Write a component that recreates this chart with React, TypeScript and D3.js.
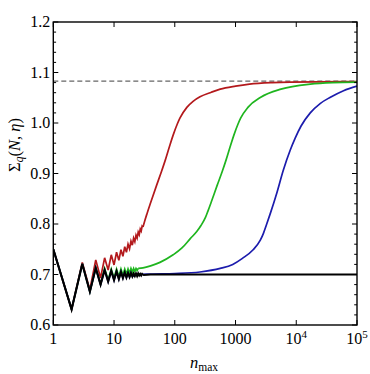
import React from 'react';
import * as d3 from 'd3';

const width = 370;
const height = 374;
const margin = { left: 53.3, right: 13, top: 22, bottom: 49 };

// sawtooth part, integer n
const sawN = [1, 2, 3, 4, 5, 6, 7, 8, 9, 10, 11, 12, 13, 14, 15, 16, 17, 18, 19, 20, 21, 22, 23, 24, 25, 26, 27, 28, 29, 30];

const blackV = [0.750, 0.631, 0.721, 0.666, 0.713, 0.680, 0.709, 0.686, 0.707, 0.689, 0.706, 0.691, 0.705, 0.693, 0.704, 0.694, 0.703, 0.695, 0.703, 0.696, 0.702, 0.697, 0.702, 0.697, 0.702, 0.698, 0.701, 0.698, 0.701, 0.699];
const blackTailN = [40, 100000];
const blackTailV = [0.700, 0.700];

const redV = [0.750, 0.631, 0.724, 0.670, 0.729, 0.693, 0.733, 0.709, 0.739, 0.719, 0.744, 0.728, 0.749, 0.736, 0.755, 0.744, 0.760, 0.751, 0.766, 0.758, 0.772, 0.765, 0.778, 0.772, 0.784, 0.779, 0.790, 0.786, 0.796, 0.794];
const redTailN = [32, 35, 40, 50, 60, 70, 84, 94, 110, 122, 158, 200, 260, 400, 560, 1000, 1700, 4000, 8000, 100000];
const redTailV = [0.806, 0.821, 0.842, 0.876, 0.903, 0.927, 0.958, 0.976, 0.998, 1.010, 1.031, 1.043, 1.052, 1.061, 1.067, 1.073, 1.077, 1.080, 1.081, 1.082];

const greenSawN = [1, 2, 3, 4, 5, 6, 7, 8, 9, 10, 11, 12, 13, 14, 15, 16, 17, 18, 19, 20, 21, 22, 23, 24, 25];
const greenSawV = [0.750, 0.631, 0.721, 0.666, 0.713, 0.681, 0.712, 0.689, 0.711, 0.693, 0.711, 0.696, 0.711, 0.699, 0.711, 0.701, 0.711, 0.703, 0.712, 0.705, 0.712, 0.706, 0.712, 0.708, 0.712];
const greenTailN = [30, 40, 57, 94, 130, 180, 230, 270, 320, 350, 400, 500, 600, 700, 840, 940, 1100, 1220, 1600, 2600, 5600, 17000, 40000, 100000];
const greenTailV = [0.713, 0.717, 0.724, 0.739, 0.752, 0.771, 0.785, 0.797, 0.813, 0.825, 0.844, 0.877, 0.903, 0.927, 0.958, 0.976, 0.998, 1.010, 1.031, 1.051, 1.067, 1.077, 1.080, 1.081];

const blueSawN = [1, 2, 3, 4, 5, 6, 7, 8, 9, 10, 11, 12, 13, 14, 15, 16, 17, 18, 19, 20];
const blueSawV = [0.750, 0.631, 0.721, 0.666, 0.713, 0.680, 0.709, 0.686, 0.707, 0.689, 0.706, 0.691, 0.705, 0.693, 0.704, 0.694, 0.703, 0.695, 0.703, 0.696];
const blueTailN = [25, 40, 100, 260, 560, 900, 1300, 1950, 2560, 2870, 3200, 3720, 4800, 6100, 7940, 9600, 12000, 17000, 25000, 36500, 60000, 100000];
const blueTailV = [0.700, 0.701, 0.702, 0.705, 0.712, 0.720, 0.732, 0.749, 0.768, 0.781, 0.797, 0.820, 0.862, 0.906, 0.946, 0.970, 0.994, 1.020, 1.039, 1.051, 1.064, 1.073];

const limitValue = 1.083;

const yTicks = [0.6, 0.7, 0.8, 0.9, 1.0, 1.1, 1.2];
const yMinor = d3.range(0.6, 1.2001, 0.02);
const xTicks = [1, 10, 100, 1000, 10000, 100000];
const xLabels = ['1', '10', '100', '1000', '10^4', '10^5'];

const font = 'Liberation Serif, Times New Roman, DejaVu Serif, serif';

const zipPts = (ns: number[], vs: number[]) => ns.map((n, i) => [n, vs[i]] as [number, number]);

export default function App() {
  const x = d3.scaleLog().domain([1, 100000]).range([margin.left, width - margin.right]);
  const y = d3.scaleLinear().domain([0.6, 1.2]).range([height - margin.bottom, margin.top]);
  const sawLine = d3.line<[number, number]>().x(d => x(d[0])).y(d => y(d[1]));
  const smoothLine = d3.line<[number, number]>().x(d => x(d[0])).y(d => y(d[1])).curve(d3.curveMonotoneX);

  const series = [
    { saw: zipPts(sawN, redV), tail: zipPts(redTailN, redTailV), color: '#b3191c', w: 1.7 },
    { saw: zipPts(greenSawN, greenSawV), tail: zipPts(greenTailN, greenTailV), color: '#1fb51f', w: 1.7 },
    { saw: zipPts(blueSawN, blueSawV), tail: zipPts(blueTailN, blueTailV), color: '#1c1cad', w: 1.7 },
    { saw: zipPts(sawN, blackV), tail: zipPts(blackTailN, blackTailV), color: '#000', w: 2.1 },
  ];

  const x0 = margin.left, x1 = width - margin.right;
  const y0 = margin.top, y1 = height - margin.bottom;
  const txt = { fontFamily: font };

  return (
    <svg width={width} height={height} style={{ position: 'absolute', left: 0, top: 0, background: '#fff' }}>
      <defs>
        <clipPath id="plot">
          <rect x={x0} y={y0} width={x1 - x0} height={y1 - y0} />
        </clipPath>
      </defs>
      <line x1={x0} x2={x1} y1={y(limitValue)} y2={y(limitValue)} stroke="#666" strokeWidth={1.3} strokeDasharray="5,3" />
      <g clipPath="url(#plot)">
        {series.map((s, i) => (
          <g key={i}>
            <path d={sawLine(s.saw) || ''} fill="none" stroke={s.color} strokeWidth={s.w} />
            <path d={smoothLine([s.saw[s.saw.length - 1], ...s.tail]) || ''} fill="none" stroke={s.color} strokeWidth={s.w} />
          </g>
        ))}
      </g>
      {/* frame */}
      <rect x={x0} y={y0} width={x1 - x0} height={y1 - y0} fill="none" stroke="#000" strokeWidth={1.4} />
      {yMinor.map((v, i) => {
        const major = Math.abs(Math.round(v * 10) - v * 10) < 1e-6;
        const len = major ? 5 : 2.8;
        return (
          <g key={i}>
            <line x1={x0} x2={x0 + len} y1={y(v)} y2={y(v)} stroke="#000" strokeWidth={1} />
            <line x1={x1} x2={x1 - len} y1={y(v)} y2={y(v)} stroke="#000" strokeWidth={1} />
          </g>
        );
      })}
      {xTicks.map((t, i) => (
        <g key={i}>
          <line x1={x(t)} x2={x(t)} y1={y1} y2={y1 - 5} stroke="#000" strokeWidth={1} />
          <line x1={x(t)} x2={x(t)} y1={y0} y2={y0 + 5} stroke="#000" strokeWidth={1} />
        </g>
      ))}
      {yTicks.map((t, i) => (
        <text key={i} x={x0 - 3} y={y(t) + 5} textAnchor="end" style={txt} fontSize={16}>
          {t.toFixed(1)}
        </text>
      ))}
      {xTicks.map((t, i) => {
        const lab = xLabels[i];
        if (lab.includes('^')) {
          const [b, e] = lab.split('^');
          return (
            <text key={i} x={x(t)} y={y1 + 19} textAnchor="middle" style={txt} fontSize={16}>
              {b}
              <tspan dy={-6} fontSize={11}>{e}</tspan>
            </text>
          );
        }
        return (
          <text key={i} x={x(t)} y={y1 + 19} textAnchor="middle" style={txt} fontSize={16}>
            {lab}
          </text>
        );
      })}
      <text x={190} y={368} style={txt} fontSize={16.5}>
        <tspan fontStyle="italic">n</tspan>
        <tspan dy={3} fontSize={11.5}>max</tspan>
      </text>
      <text transform="translate(20,145) rotate(-90)" textAnchor="middle" style={txt} fontSize={16.5}>
        Σ
        <tspan dy={3} fontSize={11.5} fontStyle="italic">q</tspan>
        <tspan dy={-3}>(</tspan>
        <tspan fontStyle="italic">N</tspan>
        <tspan>, </tspan>
        <tspan fontStyle="italic">η</tspan>
        <tspan>)</tspan>
      </text>
    </svg>
  );
}
